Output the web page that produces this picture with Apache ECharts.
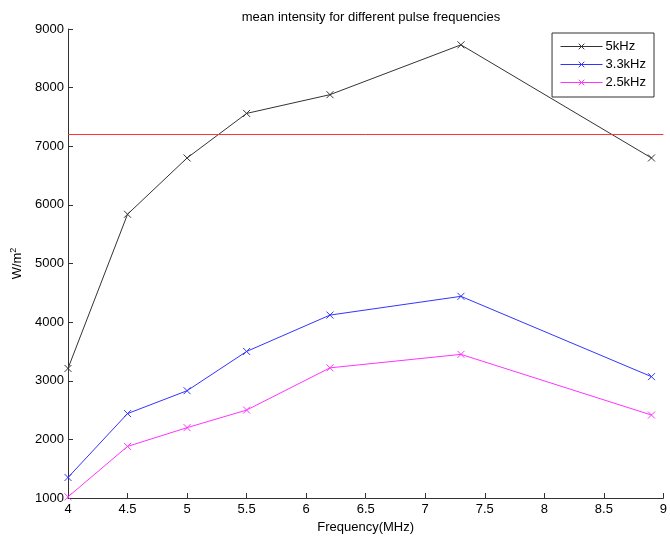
<!DOCTYPE html>
<html><head><meta charset="utf-8">
<script src="https://cdn.jsdelivr.net/npm/echarts@6/dist/echarts.min.js"></script>
<style>html,body{margin:0;padding:0;background:#fff}#c{width:670px;height:540px}</style>
</head><body><div id="c"></div>
<script>
const freqs = [4, 4.5, 5, 5.5, 6.2, 7.3, 8.9];
const s5k = [3210, 5840, 6800, 7560, 7880, 8730, 6800];
const s33k = [1350, 2440, 2830, 3500, 4120, 4440, 3070];
const s25k = [1020, 1880, 2200, 2500, 3220, 3450, 2415];
const refLevel = 7200;
const refX = [4, 9];
const seriesNames = ['5kHz', '3.3kHz', '2.5kHz'];
const colors = ['#333333', '#3333ff', '#ff33ff'];

const font = 'Liberation Sans, Arial, sans-serif';
const xMark = 'path://M0,0L10,10M10,0L0,10';
function mk(name, vals, color) {
  return {
    name: name, type: 'line', data: freqs.map((f, i) => [f, vals[i]]),
    symbol: xMark, symbolSize: 7, showSymbol: true,
    lineStyle: { color: color, width: 1 },
    itemStyle: { color: 'rgba(0,0,0,0)', borderColor: color, borderWidth: 1 },
    emphasis: { disabled: true }, animation: false
  };
}
const chart = echarts.init(document.getElementById('c'));
chart.setOption({
  animation: false,
  textStyle: { fontFamily: font },
  title: { text: 'mean intensity for different pulse frequencies', left: 366, textAlign: 'center', top: 6,
    textStyle: { fontSize: 13, fontWeight: 'normal', color: '#000', fontFamily: font } },
  grid: { left: 68, right: 6, top: 29, bottom: 42 },
  legend: {
    orient: 'vertical', right: 16, top: 33, data: seriesNames,
    itemWidth: 42, itemHeight: 7, itemGap: 5,
    borderColor: '#333', borderWidth: 1, padding: [7, 8, 8, 8],
    backgroundColor: '#fff',
    lineStyle: { width: 1 },
    itemStyle: { borderWidth: 1 },
    textStyle: { fontSize: 13, color: '#000', fontFamily: font, padding: [0,0,0,-2] }
  },
  xAxis: {
    type: 'value', min: 4, max: 9, interval: 0.5,
    name: 'Frequency(MHz)', nameLocation: 'middle', nameGap: 22,
    nameTextStyle: { fontSize: 13, color: '#000', fontFamily: font },
    axisLine: { lineStyle: { color: '#333' } },
    axisTick: { inside: true, length: 5, lineStyle: { color: '#333' } },
    axisLabel: { fontSize: 13, color: '#000', margin: 5, fontFamily: font },
    splitLine: { show: false }
  },
  yAxis: {
    type: 'value', min: 1000, max: 9000, interval: 1000,
    name: 'W/m{s|2}', nameLocation: 'middle', nameGap: 42,
    nameTextStyle: { fontSize: 13, color: '#000', fontFamily: font,
      rich: { s: { fontSize: 9, verticalAlign: 'top', padding: [0,0,8,0], color: '#000', fontFamily: font } } },
    axisLine: { show: true, lineStyle: { color: '#333' } },
    axisTick: { show: true, inside: true, length: 5, lineStyle: { color: '#333' } },
    axisLabel: { fontSize: 13, color: '#000', margin: 4, fontFamily: font, formatter: v => String(v) },
    splitLine: { show: false }
  },
  series: [
    mk(seriesNames[0], s5k, colors[0]),
    mk(seriesNames[1], s33k, colors[1]),
    mk(seriesNames[2], s25k, colors[2]),
    { name: 'ref', type: 'line', data: refX.map(x => [x, refLevel]), symbol: 'none',
      lineStyle: { color: '#ff3333', width: 1 }, emphasis: { disabled: true }, animation: false }
  ]
});
</script></body></html>
